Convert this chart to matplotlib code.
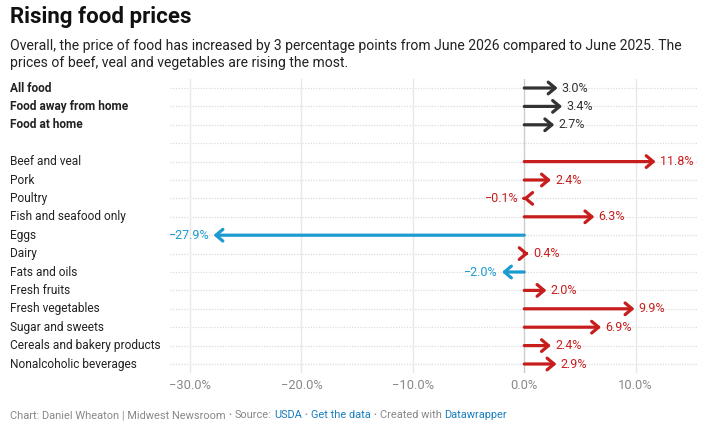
import matplotlib.pyplot as plt
from matplotlib.transforms import blended_transform_factory

plt.rcParams["font.family"] = ["Roboto", "DejaVu Sans"]

# Data (percent change, June 2025 -> June 2026)
categories = [
    "All food", "Food away from home", "Food at home", "",
    "Beef and veal", "Pork", "Poultry", "Fish and seafood only", "Eggs",
    "Dairy", "Fats and oils", "Fresh fruits", "Fresh vegetables",
    "Sugar and sweets", "Cereals and bakery products", "Nonalcoholic beverages",
]
changes = [3.0, 3.4, 2.7, None, 11.8, 2.4, -0.1, 6.3, -27.9, 0.4, -2.0, 2.0, 9.9, 6.9, 2.4, 2.9]
bold_rows = ["All food", "Food away from home", "Food at home"]
x_ticks = [-30, -20, -10, 0, 10]

DARK = "#333333"
RED = "#c71e1d"
BLUE = "#1d9bd0"
GRAY = "#888888"
LINK = "#1a7fc1"


def arrow_color(name, v):
    if name in bold_rows:
        return DARK
    if v <= -1:
        return BLUE
    return RED


W, H = 712, 436
fig = plt.figure(figsize=(W / 100, H / 100), dpi=100)
ax = fig.add_axes([170 / W, 1 - 373.2 / H, 528 / W, (373.2 - 78.8) / H])
ax.set_xlim(-31.8, 15.6)
ax.set_ylim(len(categories) - 0.5, -0.5)
for s in ax.spines.values():
    s.set_visible(False)
ax.set_yticks([])
ax.set_xticks(x_ticks)
ax.set_xticklabels([f"{t:.1f}%".replace("-", "\u2212") for t in x_ticks], color=GRAY, fontsize=9.3)
ax.tick_params(axis="x", length=0, pad=4)

# grid
for t in x_ticks:
    ax.axvline(t, color="#cccccc" if t == 0 else "#e8e8e8", lw=1, zorder=1)
for i in range(len(categories)):
    ax.axhline(i, color="#dddddd", lw=0.9, ls=(0, (1, 1.2)), zorder=0)

label_tr = blended_transform_factory(fig.transFigure, ax.transData)
for i, (name, v) in enumerate(zip(categories, changes)):
    if not name:
        continue
    ax.text(10 / W, i, name, transform=label_tr, ha="left", va="center",
            fontsize=8.6, color="#222222",
            fontweight="bold" if name in bold_rows else "normal")
    c = arrow_color(name, v)
    ax.annotate("", xy=(v, i), xytext=(0, i),
                arrowprops=dict(arrowstyle="->,head_length=0.5,head_width=0.42",
                                color=c, lw=2.3, shrinkA=0, shrinkB=0),
                zorder=3)
    txt = f"{v:.1f}%".replace("-", "\u2212")
    off = 3 if v >= 0 else -3
    ax.annotate(txt, xy=(v, i), xytext=(off, 0), textcoords="offset points",
                ha="left" if v >= 0 else "right", va="center", fontsize=9, color=c)

# titles
fig.text(10 / W, 1 - 6 / H, "Rising food prices", ha="left", va="top",
         fontsize=16, fontweight="bold", color="#111111")
fig.text(10 / W, 1 - 39 / H,
         "Overall, the price of food has increased by 3 percentage points from June 2026 compared to June 2025. The\n"
         "prices of beef, veal and vegetables are rising the most.",
         ha="left", va="top", fontsize=10.05, color="#222222", linespacing=1.25)

# footer, one chunk at a time so the links can be blue; None = bullet separator
parts = [
    ("Chart: Daniel Wheaton | Midwest Newsroom", GRAY),
    (None, GRAY),
    ("Source:", GRAY),
    ("USDA", LINK),
    (None, GRAY),
    ("Get the data", LINK),
    (None, GRAY),
    ("Created with", GRAY),
    ("Datawrapper", LINK),
]
renderer = fig.canvas.get_renderer()
fy = 1 - 415 / H
x = 10
for s, c in parts:
    if s is None:
        fig.text((x + 2) / W, fy, "\u2022", ha="center", va="center", fontsize=6, color=c)
        x += 7
        continue
    t = fig.text(x / W, fy, s, ha="left", va="center", fontsize=7.9, color=c)
    x += t.get_window_extent(renderer=renderer).width + 2.3

fig.savefig("out.png", dpi=100)
